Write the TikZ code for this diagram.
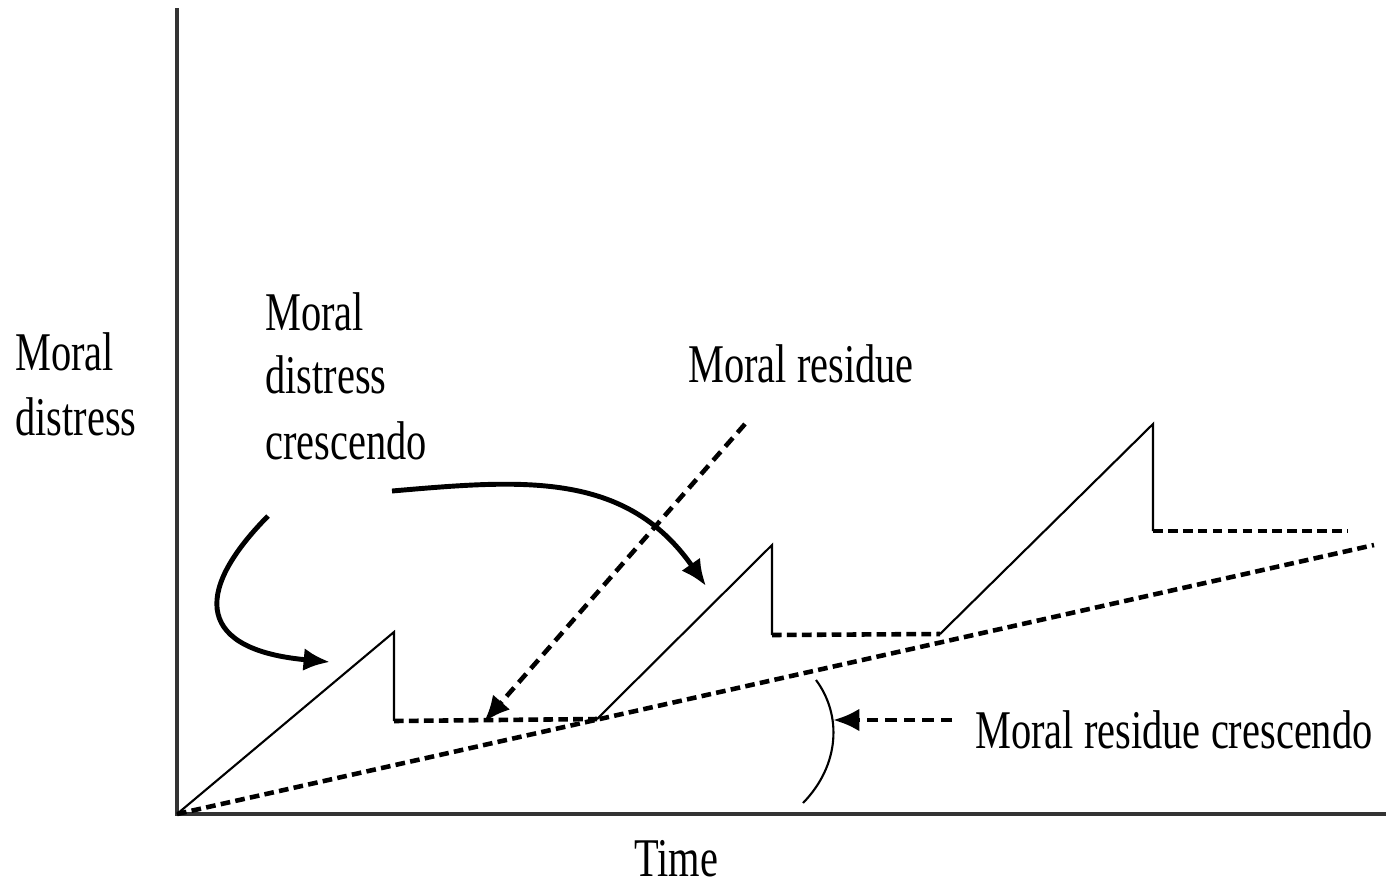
\documentclass[tikz,border=0pt]{standalone}
\usepackage{fontspec}
\setmainfont{Liberation Serif}
\usetikzlibrary{arrows.meta}
\begin{document}
\begin{tikzpicture}[x=0.02cm,y=-0.02cm,
  axis/.style={line width=2.0pt, black!80},
  saw/.style={line width=1.2pt},
  dsh/.style={line width=2.6pt, dash pattern=on 5.5pt off 3pt},
  curvearr/.style={line width=2.8pt, -{Latex[length=15pt,width=13pt]}},
  darr/.style={line width=2.6pt, dash pattern=on 6.5pt off 4pt, -{Latex[length=15pt,width=13pt]}},
  lbl/.style={anchor=base west, inner sep=0pt, font=\fontsize{23}{27}\selectfont},
  lblc/.style={anchor=base, inner sep=0pt, font=\fontsize{23}{27}\selectfont}]
\useasboundingbox (0,0) rectangle (1386,887);
% axes
\coordinate (top) at (177,8);
\coordinate (O) at (177,814);
\coordinate (xend) at (1386,814);
\draw[axis] (top) -- (O) -- (xend);
% sawtooth
\coordinate (p1) at (394,632);
\coordinate (b1) at (394,721);
\coordinate (s2) at (597,719);
\coordinate (p2) at (772,545);
\coordinate (b2) at (772,635);
\coordinate (s3) at (940,634);
\coordinate (p3) at (1153,424);
\coordinate (b3) at (1153,531);
\coordinate (e3) at (1348,531);
\coordinate (bl) at (1374,545);
\draw[saw] (O) -- (p1) -- (b1);
\draw[saw] (s2) -- (p2) -- (b2);
\draw[saw] (s3) -- (p3) -- (b3);
\draw[dsh] (b1) -- (s2);
\draw[dsh] (b2) -- (s3);
\draw[dsh] (b3) -- (e3);
\draw[dsh] (O) -- (bl);
% curved arrows
\coordinate (c1s) at (268,516);
\coordinate (c1e) at (330,662);
\draw[curvearr] (c1s) .. controls (190,595) and (200,650) .. (c1e);
\coordinate (c2s) at (392,491);
\coordinate (c2e) at (706,586);
\draw[curvearr] (c2s) .. controls (520,480) and (625,470) .. (c2e);
% dashed arrow moral residue
\coordinate (d1s) at (745,424);
\coordinate (d1e) at (484,722);
\draw[darr] (d1s) -- (d1e);
% angle arc
\coordinate (a1) at (816,680);
\coordinate (a2) at (803,803);
\draw[saw] (a1) .. controls (842,715) and (840,765) .. (a2);
\coordinate (d2s) at (952,720);
\coordinate (d2e) at (833,720);
\draw[darr] (d2s) -- (d2e);
% labels
\node[lbl] (md1) at (15,370) {\scalebox{1}[1.35]{Moral}};
\node[lbl] (md2) at (15,435) {\scalebox{1}[1.35]{distress}};
\node[lbl] (mc1) at (265,330) {\scalebox{1}[1.35]{Moral}};
\node[lbl] (mc2) at (265,393) {\scalebox{1}[1.35]{distress}};
\node[lbl] (mc3) at (265,459) {\scalebox{1}[1.35]{crescendo}};
\node[lbl] (mr) at (688,382) {\scalebox{1}[1.35]{Moral residue}};
\node[lbl] (mrc) at (975,748) {\scalebox{1}[1.35]{Moral residue crescendo}};
\node[lblc] (time) at (676,876) {\scalebox{1}[1.35]{Time}};
\end{tikzpicture}
\end{document}
